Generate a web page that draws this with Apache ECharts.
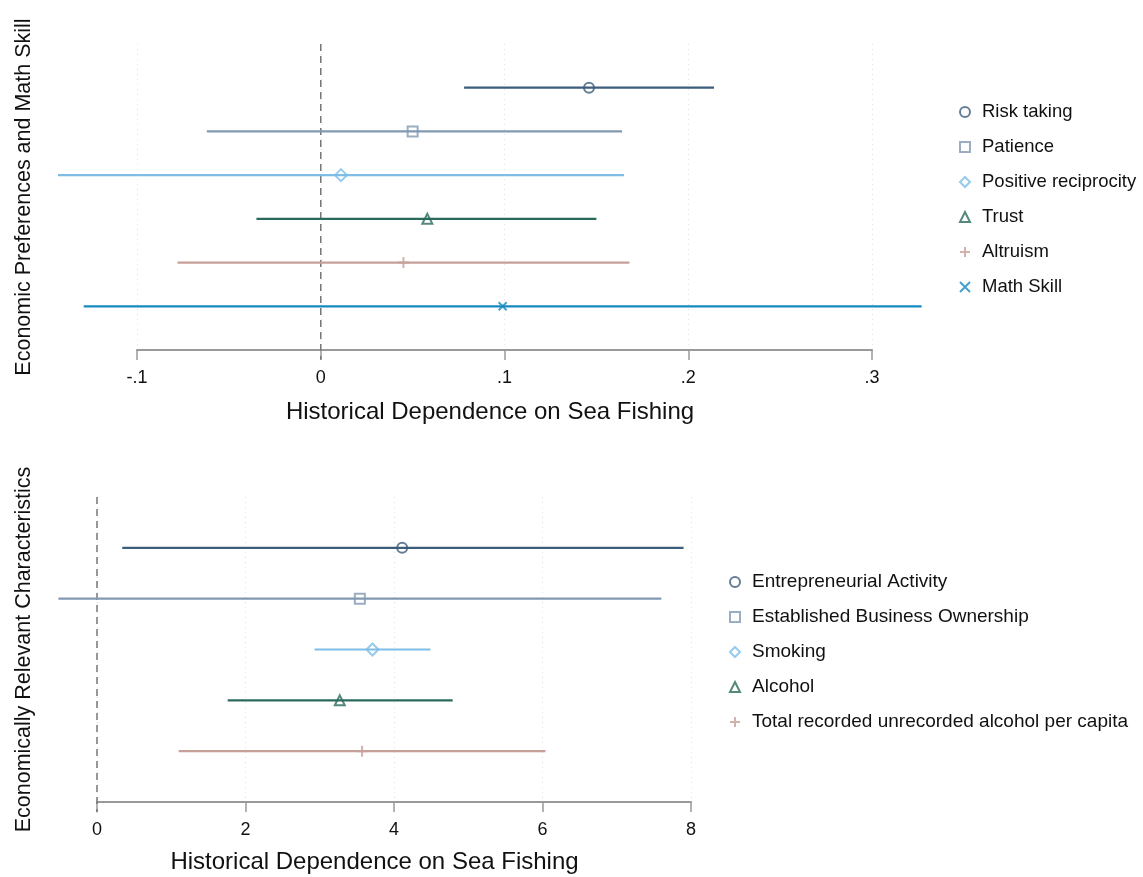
<!DOCTYPE html>
<html>
<head>
<meta charset="utf-8">
<script src="https://cdn.jsdelivr.net/npm/echarts@6/dist/echarts.min.js"></script>
<style>
html,body{margin:0;padding:0;background:#fff;}
#chart{width:1143px;height:877px;}
</style>
</head>
<body>
<div id="chart"></div>
<script>
// ---- Top panel data ----
const topNames = ['Risk taking', 'Patience', 'Positive reciprocity', 'Trust', 'Altruism', 'Math Skill'];
const topEst   = [0.146, 0.050, 0.011, 0.058, 0.045, 0.099];
const topLo    = [0.078, -0.062, -0.143, -0.035, -0.078, -0.129];
const topHi    = [0.214, 0.164, 0.165, 0.150, 0.168, 0.327];
const topTicks = ['-.1', '0', '.1', '.2', '.3'];

// ---- Bottom panel data ----
const botNames = ['Entrepreneurial Activity', 'Established Business Ownership', 'Smoking', 'Alcohol', 'Total recorded unrecorded alcohol per capita'];
const botEst   = [4.11, 3.54, 3.71, 3.27, 3.57];
const botLo    = [0.34, -0.52, 2.93, 1.76, 1.10];
const botHi    = [7.90, 7.60, 4.49, 4.79, 6.04];
const botTicks = ['0', '2', '4', '6', '8'];

const colors = ['#3d5d7c', '#8299b2', '#7dbde8', '#2a6a5d', '#c6a098', '#168ac0'];
const symbols = ['circle', 'rect', 'diamond', 'triangle',
  'path://M5,0L5,10M0,5L10,5', 'path://M0,0L10,10M10,0L0,10'];
const symSizes = [10, 10, 12, 10, 11, 8];

const FONT = '"Liberation Sans", Arial, sans-serif';

function hline(color, width) {
  return function (params, api) {
    const p1 = api.coord([api.value(0), api.value(2)]);
    const p2 = api.coord([api.value(1), api.value(2)]);
    return {
      type: 'line',
      shape: { x1: p1[0], y1: p1[1], x2: p2[0], y2: p2[1] },
      style: { stroke: color, lineWidth: width }
    };
  };
}
function vline(params, api) {
  const p1 = api.coord([api.value(0), api.value(1)]);
  const p2 = api.coord([api.value(0), api.value(2)]);
  return {
    type: 'line',
    shape: { x1: p1[0], y1: p1[1], x2: p2[0], y2: p2[1] },
    style: { stroke: '#777', lineWidth: 1.5, lineDash: [7, 5] }
  };
}

function buildSeries(names, est, lo, hi, gi) {
  const s = [];
  names.forEach((n, i) => {
    s.push({
      name: 'ci_' + gi + '_' + i,
      type: 'custom',
      xAxisIndex: gi, yAxisIndex: gi,
      data: [[lo[i], hi[i], i + 1]],
      encode: { x: [0, 1], y: 2 },
      renderItem: hline(colors[i], 2.2),
      clip: false,
      silent: true,
      z: 3
    });
    s.push({
      name: n,
      type: 'scatter',
      xAxisIndex: gi, yAxisIndex: gi,
      data: [[est[i], i + 1]],
      symbol: symbols[i],
      symbolSize: symSizes[i],
      clip: false,
      itemStyle: { color: 'rgba(255,255,255,0)', borderColor: colors[i], borderWidth: 2 },
      z: 5
    });
  });
  return s;
}

const series = [].concat(
  buildSeries(topNames, topEst, topLo, topHi, 0),
  buildSeries(botNames, botEst, botLo, botHi, 1)
);
// dashed zero lines
series.push({
  name: 'zero0', type: 'custom', xAxisIndex: 0, yAxisIndex: 0,
  data: [[0, 0, 7.22]], encode: { x: 0, y: [1, 2] },
  renderItem: vline, clip: false, silent: true, z: 2
});
series.push({
  name: 'zero1', type: 'custom', xAxisIndex: 1, yAxisIndex: 1,
  data: [[0, 0, 6.2]], encode: { x: 0, y: [1, 2] },
  renderItem: vline, clip: false, silent: true, z: 2
});

function xAxisCfg(gi, min, max, interval, ticks, nameGap, shift) {
  return {
    gridIndex: gi, type: 'value', position: 'bottom', min: min, max: max, interval: interval,
    name: 'Historical Dependence on Sea Fishing',
    nameLocation: 'middle', nameGap: nameGap,
    nameTextStyle: { fontFamily: FONT, fontSize: 24, color: '#111', padding: [0, shift, 0, 0] },
    axisLine: { show: true, onZero: false, lineStyle: { color: '#999', width: 2 } },
    axisTick: { show: true, length: 10, lineStyle: { color: '#999', width: 1.5 } },
    axisLabel: {
      fontFamily: FONT, fontSize: 18, color: '#111', margin: 19,
      formatter: function (v) {
        const idx = Math.round((v - min) / interval);
        return ticks[idx] !== undefined ? ticks[idx] : '';
      }
    },
    splitLine: { show: true, lineStyle: { color: '#e2e2e2', width: 1, type: [1, 4] } }
  };
}

function yAxisCfg(gi, max, name, nameGap) {
  return {
    gridIndex: gi, type: 'value', min: 0, max: max, inverse: true,
    name: name, nameLocation: 'middle', nameRotate: 90, nameGap: nameGap,
    nameTextStyle: { fontFamily: FONT, fontSize: 21.5, color: '#111' },
    axisLine: { show: false }, axisTick: { show: false },
    axisLabel: { show: false }, splitLine: { show: false }
  };
}

function legendCfg(names, left, top, fs) {
  return {
    orient: 'vertical', left: left, top: top,
    data: names,
    itemWidth: 10, itemHeight: 10, itemGap: 15,
    selectedMode: false,
    textStyle: { fontFamily: FONT, fontSize: fs, color: '#111', lineHeight: 20, padding: [0, 0, 0, 7] }
  };
}

const option = {
  animation: false,
  backgroundColor: '#fff',
  grid: [
    { left: 137, right: 271, top: 44, height: 306 },
    { left: 97, right: 452, top: 497, height: 305 }
  ],
  xAxis: [
    xAxisCfg(0, -0.1, 0.3, 0.1, topTicks, 50, 29),
    xAxisCfg(1, 0, 8, 2, botTicks, 48, 39)
  ],
  yAxis: [
    yAxisCfg(0, 7, 'Economic Preferences and Math Skill', 102),
    yAxisCfg(1, 6, 'Economically Relevant Characteristics', 62)
  ],
  legend: [
    legendCfg(topNames, 954, 97, 18.5),
    legendCfg(botNames, 724, 567, 19)
  ],
  series: series
};

const chart = echarts.init(document.getElementById('chart'), null, { renderer: 'canvas' });
chart.setOption(option);
</script>
</body>
</html>
